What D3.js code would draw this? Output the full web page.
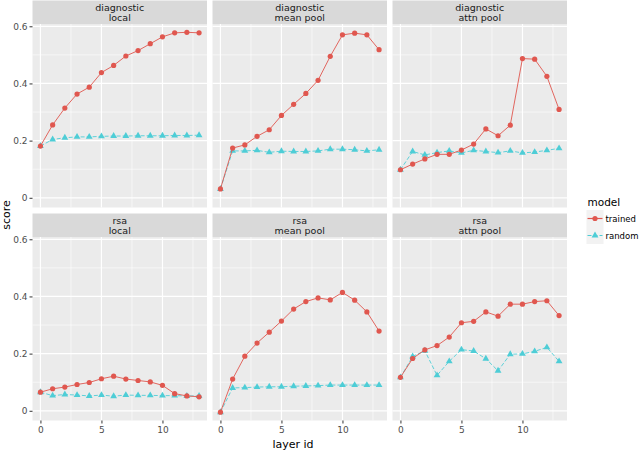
<!DOCTYPE html>
<html>
<head>
<meta charset="utf-8">
<script src="https://cdn.jsdelivr.net/npm/d3@7"></script>
<style>
  body { margin: 0; background: #fff; }
  svg { font-family: "DejaVu Sans", sans-serif; }
</style>
</head>
<body>
<svg id="chart" width="640" height="452"></svg>
<script>
// data
var layers = d3.range(0, 14);
var facetRows = ['diagnostic', 'rsa'];
var facetCols = ['local', 'mean pool', 'attn pool'];
var models = ['trained', 'random'];
var yTicks = [0, 0.2, 0.4, 0.6];
var xTicks = [0, 5, 10];

var diagLocalTrained = [0.181, 0.255, 0.314, 0.363, 0.387, 0.438, 0.463, 0.496, 0.515, 0.539, 0.563, 0.577, 0.579, 0.577];
var diagLocalRandom  = [0.181, 0.204, 0.210, 0.213, 0.213, 0.215, 0.216, 0.216, 0.217, 0.217, 0.217, 0.218, 0.218, 0.219];
var diagMeanTrained  = [0.031, 0.174, 0.185, 0.215, 0.238, 0.288, 0.327, 0.365, 0.411, 0.495, 0.570, 0.576, 0.570, 0.518];
var diagMeanRandom   = [0.031, 0.164, 0.164, 0.166, 0.159, 0.163, 0.162, 0.162, 0.164, 0.170, 0.170, 0.168, 0.164, 0.168];
var diagAttnTrained  = [0.098, 0.118, 0.136, 0.152, 0.152, 0.167, 0.188, 0.241, 0.217, 0.254, 0.487, 0.485, 0.425, 0.309];
var diagAttnRandom   = [0.098, 0.162, 0.150, 0.158, 0.164, 0.157, 0.166, 0.162, 0.158, 0.164, 0.157, 0.160, 0.166, 0.173];
var rsaLocalTrained  = [0.065, 0.077, 0.083, 0.092, 0.099, 0.112, 0.121, 0.111, 0.106, 0.101, 0.089, 0.060, 0.052, 0.049];
var rsaLocalRandom   = [0.065, 0.053, 0.057, 0.055, 0.052, 0.055, 0.051, 0.055, 0.054, 0.054, 0.053, 0.053, 0.052, 0.052];
var rsaMeanTrained   = [-0.005, 0.111, 0.191, 0.237, 0.275, 0.314, 0.356, 0.382, 0.395, 0.388, 0.414, 0.387, 0.346, 0.279];
var rsaMeanRandom    = [-0.005, 0.080, 0.081, 0.083, 0.084, 0.084, 0.086, 0.087, 0.088, 0.090, 0.090, 0.090, 0.090, 0.090];
var rsaAttnTrained   = [0.117, 0.183, 0.213, 0.228, 0.258, 0.308, 0.313, 0.346, 0.331, 0.373, 0.373, 0.382, 0.385, 0.333];
var rsaAttnRandom    = [0.117, 0.190, 0.210, 0.124, 0.173, 0.214, 0.209, 0.182, 0.140, 0.198, 0.199, 0.208, 0.222, 0.173];

var panels = [
    {row: 0, col: 0, trained: diagLocalTrained, random: diagLocalRandom},
    {row: 0, col: 1, trained: diagMeanTrained, random: diagMeanRandom},
    {row: 0, col: 2, trained: diagAttnTrained, random: diagAttnRandom},
    {row: 1, col: 0, trained: rsaLocalTrained, random: rsaLocalRandom},
    {row: 1, col: 1, trained: rsaMeanTrained, random: rsaMeanRandom},
    {row: 1, col: 2, trained: rsaAttnTrained, random: rsaAttnRandom}
];

var colors = {trained: '#E0574F', random: '#4ECDD6'};

var svg = d3.select('#chart');

// layout
var panelLeft = [32.5, 212.5, 392.5],
    panelW = 174.5,
    stripH = 23.5,
    rowTop = [0.5, 213.5],
    panelH = 183.5;

var x = d3.scaleLinear().domain([-0.65, 13.65]).range([0, panelW]);
var y = d3.scaleLinear().domain([-0.034, 0.608]).range([panelH, 0]);

var line = d3.line()
    .x(function(d, i) { return x(layers[i]); })
    .y(function(d) { return y(d); });

var triangle = d3.symbol().type(d3.symbolTriangle).size(20);

panels.forEach(function(p) {
    var g = svg.append('g')
        .attr('transform', 'translate(' + panelLeft[p.col] + ',' + rowTop[p.row] + ')');

    // strip
    g.append('rect')
        .attr('width', panelW).attr('height', stripH)
        .attr('fill', '#D9D9D9');
    g.append('text')
        .attr('x', panelW / 2).attr('y', 10)
        .attr('text-anchor', 'middle')
        .attr('font-size', 9.5).attr('fill', '#1A1A1A')
        .text(facetRows[p.row]);
    g.append('text')
        .attr('x', panelW / 2).attr('y', 20)
        .attr('text-anchor', 'middle')
        .attr('font-size', 9.5).attr('fill', '#1A1A1A')
        .text(facetCols[p.col]);

    var pg = g.append('g').attr('transform', 'translate(0,' + stripH + ')');
    pg.append('rect')
        .attr('width', panelW).attr('height', panelH)
        .attr('fill', '#EBEBEB');

    // minor grid
    [2.5, 7.5, 12.5].forEach(function(v) {
        pg.append('line').attr('x1', x(v)).attr('x2', x(v))
            .attr('y1', 0).attr('y2', panelH)
            .attr('stroke', '#fff').attr('stroke-width', 0.6);
    });
    [0.1, 0.3, 0.5].forEach(function(v) {
        pg.append('line').attr('y1', y(v)).attr('y2', y(v))
            .attr('x1', 0).attr('x2', panelW)
            .attr('stroke', '#fff').attr('stroke-width', 0.6);
    });
    // major grid
    xTicks.forEach(function(v) {
        pg.append('line').attr('x1', x(v)).attr('x2', x(v))
            .attr('y1', 0).attr('y2', panelH)
            .attr('stroke', '#fff').attr('stroke-width', 1.2);
    });
    yTicks.forEach(function(v) {
        pg.append('line').attr('y1', y(v)).attr('y2', y(v))
            .attr('x1', 0).attr('x2', panelW)
            .attr('stroke', '#fff').attr('stroke-width', 1.2);
    });

    // axes
    if (p.col === 0) {
        var ya = pg.append('g').call(d3.axisLeft(y).tickValues(yTicks).tickSize(3).tickPadding(2)
            .tickFormat(function(d) { return d === 0 ? '0' : d3.format('.1f')(d); }));
        ya.select('.domain').remove();
        ya.selectAll('line').attr('stroke', '#333');
        ya.selectAll('text').attr('fill', '#4D4D4D').attr('font-size', 9).attr('font-family', 'DejaVu Sans');
    }
    if (p.row === 1) {
        var xa = pg.append('g').attr('transform', 'translate(0,' + panelH + ')')
            .call(d3.axisBottom(x).tickValues(xTicks).tickSize(3).tickPadding(3));
        xa.select('.domain').remove();
        xa.selectAll('line').attr('stroke', '#333');
        xa.selectAll('text').attr('fill', '#4D4D4D').attr('font-size', 9).attr('font-family', 'DejaVu Sans');
    }

    // random series (dashed, triangles)
    pg.append('path').datum(p.random)
        .attr('d', line).attr('fill', 'none')
        .attr('stroke', colors.random).attr('stroke-width', 0.9)
        .attr('stroke-dasharray', '4,2');
    pg.selectAll('.tri').data(p.random).enter().append('path')
        .attr('d', triangle)
        .attr('transform', function(d, i) { return 'translate(' + x(layers[i]) + ',' + y(d) + ')'; })
        .attr('fill', colors.random);

    // trained series (solid, circles)
    pg.append('path').datum(p.trained)
        .attr('d', line).attr('fill', 'none')
        .attr('stroke', colors.trained).attr('stroke-width', 0.9);
    pg.selectAll('.dot').data(p.trained).enter().append('circle')
        .attr('cx', function(d, i) { return x(layers[i]); })
        .attr('cy', function(d) { return y(d); })
        .attr('r', 2.6)
        .attr('fill', colors.trained);
});

// axis titles
svg.append('text')
    .attr('transform', 'translate(10,215) rotate(-90)')
    .attr('text-anchor', 'middle')
    .attr('font-size', 11).attr('fill', '#000')
    .text('score');
svg.append('text')
    .attr('x', 293).attr('y', 448)
    .attr('text-anchor', 'middle')
    .attr('font-size', 11).attr('fill', '#000')
    .text('layer id');

// legend
var lg = svg.append('g').attr('transform', 'translate(586.5,0)');
lg.append('text').attr('x', 1).attr('y', 206)
    .attr('font-size', 10.5).attr('fill', '#000').text('model');
models.forEach(function(m, i) {
    var ky = 210 + i * 17;
    lg.append('rect').attr('x', 0).attr('y', ky).attr('width', 17).attr('height', 17)
        .attr('fill', '#F2F2F2');
    lg.append('line').attr('x1', 1).attr('x2', 16).attr('y1', ky + 8.5).attr('y2', ky + 8.5)
        .attr('stroke', colors[m]).attr('stroke-width', 1.2)
        .attr('stroke-dasharray', m === 'random' ? '4,2' : null);
    if (m === 'trained') {
        lg.append('circle').attr('cx', 8.5).attr('cy', ky + 8.5).attr('r', 2.6).attr('fill', colors[m]);
    } else {
        lg.append('path').attr('d', triangle).attr('transform', 'translate(8.5,' + (ky + 8.5) + ')')
            .attr('fill', colors[m]);
    }
    lg.append('text').attr('x', 19).attr('y', ky + 11.5)
        .attr('font-size', 8.5).attr('fill', '#000').text(m);
});
</script>
</body>
</html>
